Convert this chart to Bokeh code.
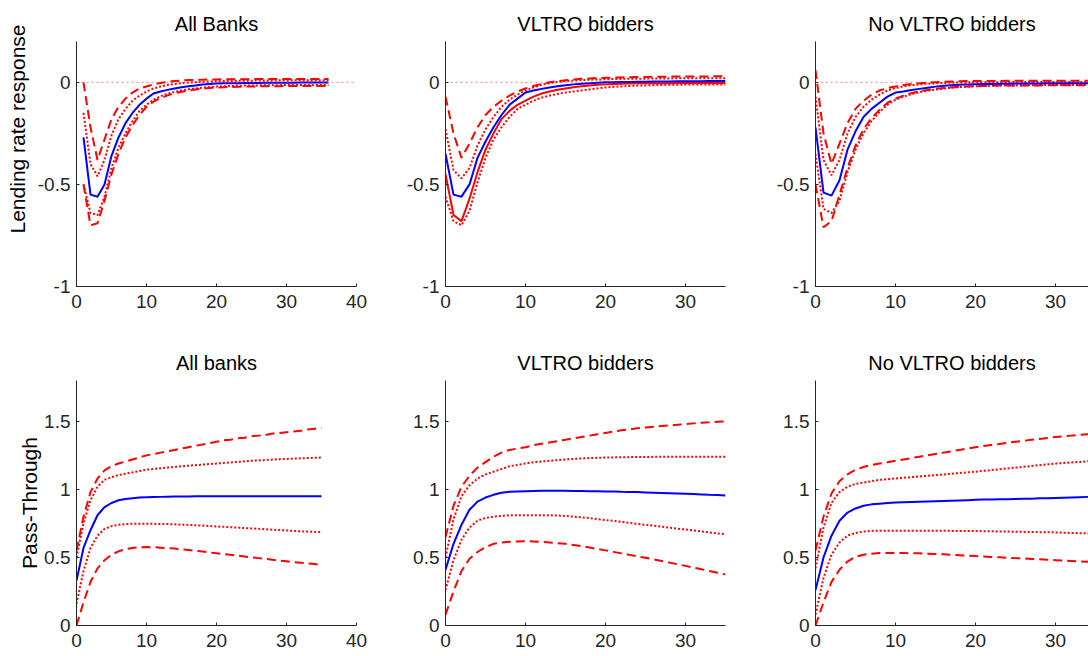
from bokeh.plotting import figure
from bokeh.layouts import column, row
from bokeh.models import Range1d, FixedTicker, Span, Title
from bokeh.embed import file_html
from bokeh.resources import INLINE

# ---------------- data ----------------
titles_top = ["All Banks", "VLTRO bidders", "No VLTRO bidders"]
titles_bot = ["All banks", "VLTRO bidders", "No VLTRO bidders"]
ylabel_top = "Lending rate response"
ylabel_bot = "Pass-Through"

# Top-left (horizons start at 1)
TL_start = 1
TL_blue = [-0.27, -0.55, -0.56, -0.50, -0.36, -0.27, -0.20, -0.15, -0.11, -0.08, -0.055, -0.045, -0.037, -0.030, -0.024, -0.019, -0.015, -0.011, -0.008, -0.006, -0.005, -0.004, -0.004, -0.003, -0.003, -0.003, -0.002, -0.002, -0.002, -0.002, -0.002, -0.001, -0.001, -0.001, -0.001, -0.001]
TL_dot_up = [-0.15, -0.40, -0.46, -0.38, -0.26, -0.18, -0.13, -0.09, -0.065, -0.045, -0.030, -0.020, -0.013, -0.008, -0.004, -0.001, 0.001, 0.003, 0.004, 0.005, 0.006, 0.007, 0.007, 0.008, 0.008, 0.009, 0.009, 0.009, 0.010, 0.010, 0.010, 0.010, 0.010, 0.010, 0.010, 0.010]
TL_dash_up = [0.0, -0.22, -0.38, -0.28, -0.18, -0.12, -0.08, -0.05, -0.03, -0.02, -0.01, -0.003, 0.002, 0.006, 0.009, 0.011, 0.012, 0.013, 0.014, 0.014, 0.015, 0.015, 0.015, 0.015, 0.016, 0.016, 0.016, 0.016, 0.016, 0.016, 0.016, 0.016, 0.016, 0.016, 0.016, 0.016]
TL_dot_lo = [-0.50, -0.64, -0.65, -0.56, -0.42, -0.32, -0.25, -0.19, -0.14, -0.11, -0.085, -0.068, -0.056, -0.047, -0.040, -0.034, -0.030, -0.026, -0.023, -0.021, -0.019, -0.018, -0.017, -0.016, -0.015, -0.015, -0.014, -0.014, -0.014, -0.013, -0.013, -0.013, -0.013, -0.013, -0.013, -0.013]
TL_dash_lo = [-0.50, -0.70, -0.69, -0.58, -0.45, -0.35, -0.27, -0.21, -0.16, -0.12, -0.095, -0.077, -0.064, -0.054, -0.046, -0.040, -0.035, -0.031, -0.028, -0.026, -0.024, -0.023, -0.022, -0.021, -0.020, -0.020, -0.019, -0.019, -0.019, -0.018, -0.018, -0.018, -0.018, -0.018, -0.018, -0.018]

# Top-middle (horizons start at 0)
TM_blue = [-0.35, -0.55, -0.56, -0.50, -0.37, -0.29, -0.22, -0.16, -0.11, -0.08, -0.05, -0.04, -0.032, -0.025, -0.019, -0.014, -0.010, -0.007, -0.004, -0.002, 0.000, 0.001, 0.002, 0.002, 0.003, 0.003, 0.004, 0.004, 0.004, 0.005, 0.005, 0.005, 0.005, 0.006, 0.006, 0.006]
TM_red = [-0.45, -0.65, -0.68, -0.57, -0.44, -0.33, -0.25, -0.18, -0.14, -0.11, -0.09, -0.07, -0.055, -0.045, -0.036, -0.030, -0.024, -0.019, -0.015, -0.012, -0.010, -0.008, -0.007, -0.006, -0.005, -0.005, -0.004, -0.004, -0.004, -0.003, -0.003, -0.003, -0.003, -0.003, -0.003, -0.003]
TM_dot_up = [-0.23, -0.43, -0.47, -0.42, -0.31, -0.23, -0.17, -0.12, -0.085, -0.06, -0.04, -0.025, -0.012, -0.004, 0.002, 0.006, 0.009, 0.011, 0.013, 0.014, 0.015, 0.016, 0.017, 0.017, 0.018, 0.018, 0.019, 0.019, 0.019, 0.020, 0.020, 0.020, 0.020, 0.020, 0.020, 0.020]
TM_dash_up = [-0.07, -0.25, -0.37, -0.30, -0.22, -0.16, -0.12, -0.09, -0.065, -0.045, -0.03, -0.018, -0.008, 0.000, 0.006, 0.010, 0.014, 0.017, 0.019, 0.021, 0.022, 0.023, 0.024, 0.025, 0.026, 0.026, 0.027, 0.027, 0.028, 0.028, 0.028, 0.029, 0.029, 0.029, 0.030, 0.030]
TM_dot_lo = [-0.56, -0.68, -0.70, -0.63, -0.49, -0.37, -0.28, -0.22, -0.17, -0.13, -0.11, -0.09, -0.075, -0.065, -0.057, -0.050, -0.045, -0.040, -0.035, -0.030, -0.025, -0.022, -0.020, -0.018, -0.016, -0.015, -0.014, -0.013, -0.012, -0.012, -0.011, -0.011, -0.010, -0.010, -0.010, -0.010]

# Top-right (horizons start at 0)
TR_blue = [-0.22, -0.54, -0.555, -0.48, -0.33, -0.24, -0.17, -0.13, -0.10, -0.07, -0.05, -0.045, -0.038, -0.032, -0.026, -0.021, -0.017, -0.014, -0.012, -0.010, -0.009, -0.008, -0.008, -0.007, -0.007, -0.006, -0.006, -0.006, -0.006, -0.005, -0.005, -0.005, -0.005, -0.005, -0.005, -0.005]
TR_dot_up = [-0.07, -0.38, -0.455, -0.38, -0.25, -0.17, -0.12, -0.085, -0.06, -0.04, -0.028, -0.02, -0.014, -0.01, -0.007, -0.005, -0.003, -0.002, -0.001, 0.000, 0.000, 0.001, 0.001, 0.001, 0.002, 0.002, 0.002, 0.002, 0.002, 0.002, 0.002, 0.002, 0.002, 0.002, 0.002, 0.002]
TR_dash_up = [0.06, -0.25, -0.40, -0.30, -0.20, -0.13, -0.09, -0.06, -0.04, -0.028, -0.02, -0.013, -0.008, -0.004, -0.001, 0.001, 0.003, 0.004, 0.005, 0.006, 0.006, 0.007, 0.007, 0.007, 0.008, 0.008, 0.008, 0.008, 0.008, 0.008, 0.008, 0.008, 0.008, 0.008, 0.008, 0.008]
TR_dot_lo = [-0.35, -0.62, -0.64, -0.58, -0.44, -0.33, -0.25, -0.19, -0.145, -0.11, -0.085, -0.07, -0.058, -0.048, -0.041, -0.035, -0.030, -0.026, -0.023, -0.021, -0.019, -0.018, -0.017, -0.016, -0.015, -0.015, -0.014, -0.014, -0.014, -0.013, -0.013, -0.013, -0.013, -0.013, -0.013, -0.013]
TR_dash_lo = [-0.50, -0.71, -0.68, -0.55, -0.42, -0.31, -0.23, -0.175, -0.135, -0.10, -0.08, -0.065, -0.053, -0.044, -0.037, -0.032, -0.028, -0.025, -0.022, -0.020, -0.019, -0.018, -0.017, -0.016, -0.016, -0.015, -0.015, -0.015, -0.015, -0.014, -0.014, -0.014, -0.014, -0.014, -0.014, -0.014]

# Bottom-left
BL_blue = [0.33, 0.57, 0.70, 0.81, 0.87, 0.90, 0.92, 0.93, 0.935, 0.94, 0.942, 0.944, 0.945, 0.946, 0.947, 0.948, 0.948, 0.949, 0.949, 0.95, 0.95, 0.95, 0.95, 0.95, 0.95, 0.95, 0.95, 0.95, 0.95, 0.95, 0.95, 0.95, 0.95, 0.95, 0.95, 0.95]
BL_dash_up = [0.55, 0.80, 0.98, 1.08, 1.14, 1.17, 1.19, 1.205, 1.22, 1.235, 1.25, 1.26, 1.27, 1.28, 1.29, 1.30, 1.31, 1.32, 1.33, 1.34, 1.35, 1.36, 1.365, 1.375, 1.38, 1.39, 1.395, 1.40, 1.41, 1.415, 1.42, 1.425, 1.43, 1.44, 1.445, 1.45]
BL_dot_up = [0.50, 0.75, 0.92, 1.02, 1.07, 1.09, 1.105, 1.115, 1.125, 1.135, 1.145, 1.15, 1.155, 1.16, 1.165, 1.17, 1.174, 1.178, 1.182, 1.186, 1.19, 1.194, 1.198, 1.202, 1.206, 1.21, 1.213, 1.216, 1.219, 1.222, 1.224, 1.226, 1.228, 1.23, 1.232, 1.234]
BL_dot_lo = [0.16, 0.40, 0.57, 0.66, 0.71, 0.73, 0.74, 0.745, 0.748, 0.748, 0.748, 0.747, 0.746, 0.745, 0.743, 0.741, 0.739, 0.736, 0.734, 0.731, 0.728, 0.725, 0.722, 0.719, 0.716, 0.713, 0.71, 0.707, 0.704, 0.701, 0.698, 0.695, 0.692, 0.69, 0.688, 0.686]
BL_dash_lo = [0.0, 0.17, 0.32, 0.42, 0.48, 0.52, 0.545, 0.56, 0.57, 0.575, 0.576, 0.575, 0.572, 0.569, 0.565, 0.56, 0.555, 0.549, 0.543, 0.537, 0.531, 0.525, 0.519, 0.513, 0.507, 0.501, 0.495, 0.489, 0.483, 0.477, 0.472, 0.466, 0.461, 0.456, 0.451, 0.446]

# Bottom-middle
BM_blue = [0.41, 0.60, 0.74, 0.85, 0.91, 0.94, 0.96, 0.975, 0.982, 0.985, 0.987, 0.989, 0.99, 0.99, 0.99, 0.99, 0.989, 0.988, 0.987, 0.986, 0.985, 0.984, 0.982, 0.981, 0.98, 0.978, 0.976, 0.974, 0.972, 0.97, 0.968, 0.966, 0.963, 0.96, 0.958, 0.955]
BM_dash_up = [0.65, 0.88, 1.02, 1.10, 1.16, 1.20, 1.24, 1.27, 1.29, 1.30, 1.31, 1.325, 1.335, 1.345, 1.355, 1.365, 1.375, 1.385, 1.395, 1.405, 1.415, 1.425, 1.435, 1.44, 1.45, 1.455, 1.46, 1.465, 1.47, 1.475, 1.48, 1.485, 1.49, 1.493, 1.497, 1.50]
BM_dot_up = [0.50, 0.78, 0.95, 1.03, 1.08, 1.11, 1.13, 1.15, 1.17, 1.18, 1.19, 1.20, 1.205, 1.21, 1.215, 1.22, 1.224, 1.227, 1.23, 1.232, 1.234, 1.235, 1.236, 1.237, 1.238, 1.238, 1.239, 1.239, 1.24, 1.24, 1.24, 1.24, 1.24, 1.24, 1.24, 1.24]
BM_dot_lo = [0.26, 0.48, 0.63, 0.72, 0.77, 0.79, 0.80, 0.805, 0.81, 0.81, 0.81, 0.81, 0.81, 0.81, 0.808, 0.805, 0.80, 0.795, 0.789, 0.782, 0.775, 0.768, 0.761, 0.754, 0.747, 0.740, 0.733, 0.726, 0.719, 0.712, 0.705, 0.698, 0.691, 0.684, 0.677, 0.67]
BM_dash_lo = [0.08, 0.25, 0.40, 0.49, 0.54, 0.575, 0.60, 0.61, 0.615, 0.618, 0.62, 0.618, 0.615, 0.61, 0.605, 0.60, 0.592, 0.583, 0.573, 0.562, 0.552, 0.541, 0.530, 0.519, 0.508, 0.497, 0.486, 0.474, 0.462, 0.45, 0.438, 0.426, 0.413, 0.40, 0.388, 0.375]

# Bottom-right
BR_blue = [0.26, 0.50, 0.66, 0.77, 0.83, 0.86, 0.88, 0.89, 0.895, 0.90, 0.903, 0.905, 0.907, 0.909, 0.911, 0.913, 0.915, 0.917, 0.919, 0.921, 0.923, 0.925, 0.926, 0.927, 0.928, 0.93, 0.931, 0.932, 0.934, 0.935, 0.937, 0.939, 0.941, 0.943, 0.945, 0.947]
BR_dash_up = [0.55, 0.80, 0.97, 1.06, 1.11, 1.145, 1.165, 1.18, 1.19, 1.20, 1.21, 1.22, 1.23, 1.24, 1.25, 1.26, 1.27, 1.28, 1.29, 1.30, 1.31, 1.318, 1.326, 1.334, 1.342, 1.35, 1.357, 1.364, 1.371, 1.378, 1.385, 1.39, 1.395, 1.40, 1.405, 1.41]
BR_dot_up = [0.42, 0.72, 0.90, 0.98, 1.02, 1.04, 1.05, 1.06, 1.07, 1.075, 1.08, 1.085, 1.09, 1.095, 1.10, 1.105, 1.11, 1.115, 1.12, 1.125, 1.13, 1.136, 1.142, 1.148, 1.154, 1.16, 1.166, 1.172, 1.178, 1.184, 1.19, 1.194, 1.198, 1.202, 1.206, 1.21]
BR_dot_lo = [0.08, 0.35, 0.52, 0.61, 0.66, 0.68, 0.69, 0.695, 0.697, 0.697, 0.697, 0.697, 0.697, 0.697, 0.696, 0.696, 0.696, 0.695, 0.695, 0.695, 0.694, 0.693, 0.692, 0.691, 0.69, 0.689, 0.688, 0.687, 0.686, 0.685, 0.684, 0.682, 0.68, 0.678, 0.677, 0.675]
BR_dash_lo = [0.0, 0.17, 0.32, 0.41, 0.47, 0.505, 0.52, 0.528, 0.532, 0.533, 0.533, 0.532, 0.531, 0.530, 0.528, 0.526, 0.523, 0.52, 0.517, 0.514, 0.51, 0.507, 0.504, 0.501, 0.498, 0.495, 0.492, 0.489, 0.486, 0.483, 0.48, 0.477, 0.474, 0.471, 0.468, 0.465]

top_yticks = [-1, -0.5, 0]
top_ylabels = ["-1", "-0.5", "0"]
bot_yticks = [0, 0.5, 1, 1.5]
bot_ylabels = ["0", "0.5", "1", "1.5"]
xticks_40 = [0, 10, 20, 30, 40]
xticks_30 = [0, 10, 20, 30]

# ---------------- styling ----------------
FONT = "Liberation Sans"
AX = "#262626"
BLUE = "#0000ff"
RED = "#ff0000"


def make_fig(title, xend, xticks, yr, yticks, ylabels, fw, lb, rb, tb, bb):
    p = figure(frame_width=fw, frame_height=245,
               x_range=Range1d(0, xend), y_range=Range1d(*yr),
               output_backend="svg", toolbar_location=None,
               min_border_left=lb, min_border_right=rb,
               min_border_top=tb, min_border_bottom=bb)
    p.outline_line_color = None
    p.xgrid.visible = False
    p.ygrid.visible = False
    p.title.text = title
    p.title.align = "center"
    p.title.text_font = FONT
    p.title.text_font_size = "20px"
    p.title.text_font_style = "normal"
    p.title.text_color = "#000000"
    p.title.standoff = 13
    for ax in (p.xaxis[0], p.yaxis[0]):
        ax.axis_line_color = AX
        ax.axis_line_width = 1
        ax.major_tick_in = 3
        ax.major_tick_out = 0
        ax.major_tick_line_color = AX
        ax.minor_tick_line_color = None
        ax.major_label_text_font = FONT
        ax.major_label_text_font_size = "19px"
        ax.major_label_text_color = AX
    p.xaxis.major_label_standoff = 8
    p.yaxis.major_label_standoff = 6
    p.xaxis.ticker = FixedTicker(ticks=xticks)
    p.xaxis.major_label_overrides = {t: str(t) for t in xticks}
    p.yaxis.ticker = FixedTicker(ticks=yticks)
    p.yaxis.major_label_overrides = {t: l for t, l in zip(yticks, ylabels)}
    return p


def xs(start, ys):
    return list(range(start, start + len(ys)))


def add_lines(p, start, blue, dash=(), dot=(), red=None):
    for d in dash:
        p.line(xs(start, d), d, line_color=RED, line_width=2, line_dash="9 5")
    for d in dot:
        p.line(xs(start, d), d, line_color=RED, line_width=2, line_dash="2 2")
    if red is not None:
        p.line(xs(start, red), red, line_color=RED, line_width=2)
    p.line(xs(start, blue), blue, line_color=BLUE, line_width=2)


def zero_line(p):
    p.add_layout(Span(location=0, dimension="width", line_color=RED,
                      line_alpha=0.5, line_width=1, line_dash="2 3"))


TOP_Y = (-1, 0.2)
BOT_Y = (0, 1.8)

p1 = make_fig(titles_top[0], 40, xticks_40, TOP_Y, top_yticks, top_ylabels, 280, 76, 20, 41, 30)
p2 = make_fig(titles_top[1], 35, xticks_30, TOP_Y, top_yticks, top_ylabels, 280, 69, 20, 41, 30)
p3 = make_fig(titles_top[2], 34.125, xticks_30, TOP_Y, top_yticks, top_ylabels, 273, 70, 0, 41, 30)
p4 = make_fig(titles_bot[0], 40, xticks_40, BOT_Y, bot_yticks, bot_ylabels, 280, 76, 20, 64, 31)
p5 = make_fig(titles_bot[1], 35, xticks_30, BOT_Y, bot_yticks, bot_ylabels, 280, 69, 20, 64, 31)
p6 = make_fig(titles_bot[2], 34.125, xticks_30, BOT_Y, bot_yticks, bot_ylabels, 273, 70, 0, 64, 31)

for p in (p1, p2, p3):
    zero_line(p)

add_lines(p1, TL_start, TL_blue, dash=(TL_dash_up, TL_dash_lo), dot=(TL_dot_up, TL_dot_lo))
add_lines(p2, 0, TM_blue, dash=(TM_dash_up,), dot=(TM_dot_up, TM_dot_lo), red=TM_red)
add_lines(p3, 0, TR_blue, dash=(TR_dash_up, TR_dash_lo), dot=(TR_dot_up, TR_dot_lo))
add_lines(p4, 0, BL_blue, dash=(BL_dash_up, BL_dash_lo), dot=(BL_dot_up, BL_dot_lo))
add_lines(p5, 0, BM_blue, dash=(BM_dash_up, BM_dash_lo), dot=(BM_dot_up, BM_dot_lo))
add_lines(p6, 0, BR_blue, dash=(BR_dash_up, BR_dash_lo), dot=(BR_dot_up, BR_dot_lo))

p1.add_layout(Title(text=ylabel_top, align="right", offset=-17, standoff=8,
                    vertical_align="top",
                    text_font=FONT, text_font_size="21px", text_font_style="normal",
                    text_color="#000000"), "left")
p4.add_layout(Title(text=ylabel_bot, align="center", standoff=2,
                    text_font=FONT, text_font_size="21px", text_font_style="normal",
                    text_color="#000000"), "left")

layout = column(row(p1, p2, p3), row(p4, p5, p6))

open("out.html", "w").write(file_html(layout, INLINE, title="Lending rate response"))
